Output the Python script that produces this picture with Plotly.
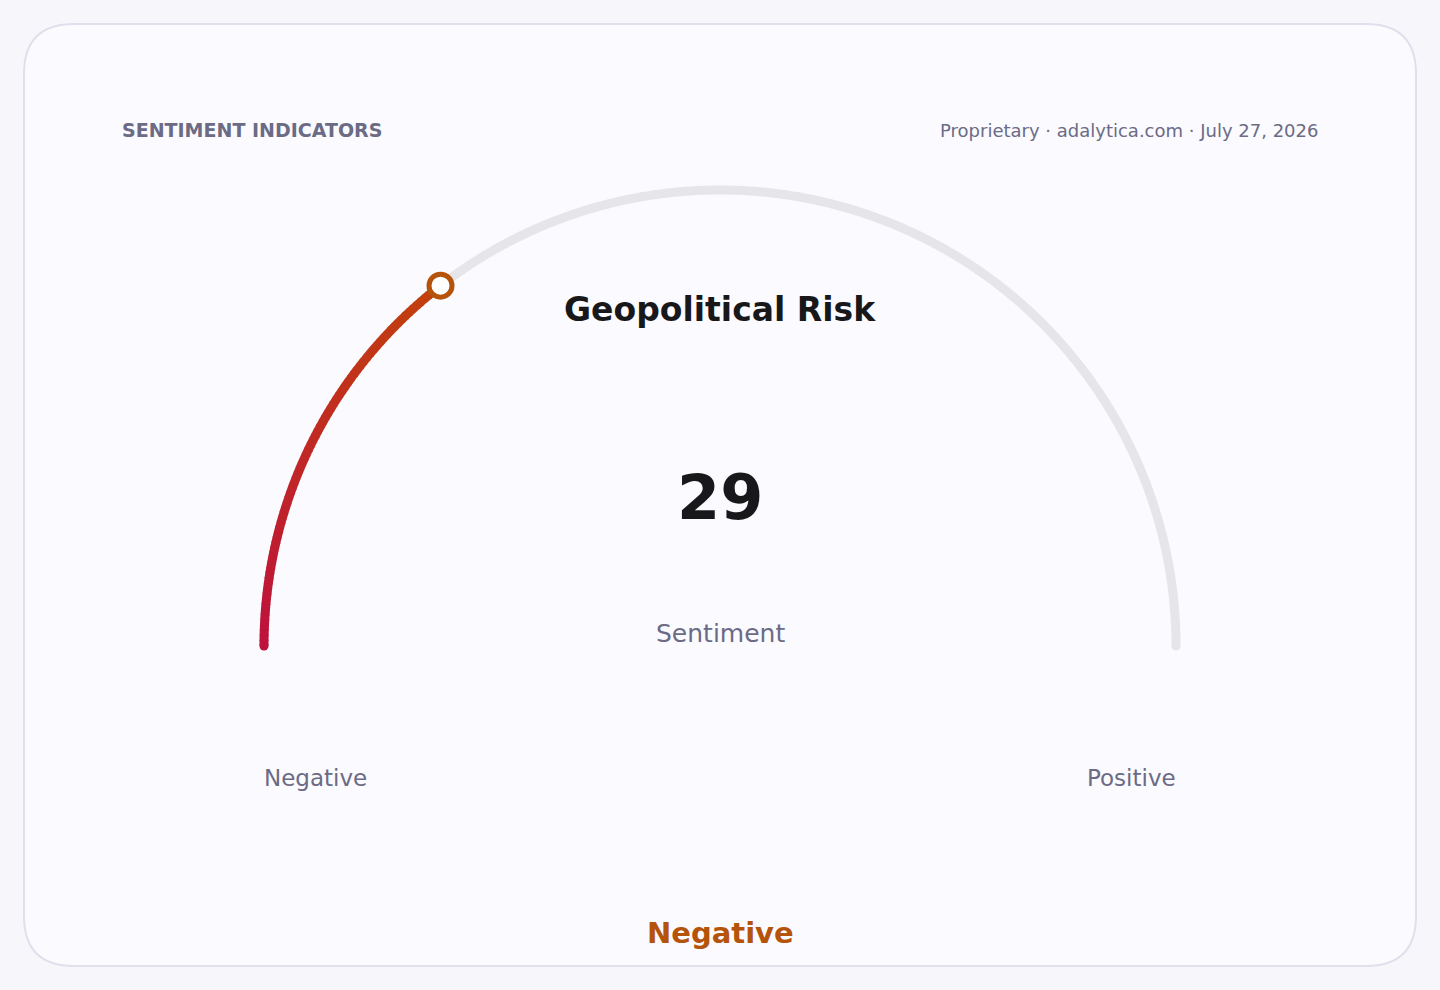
"""Sentiment gauge card recreated with Plotly."""

import math

import plotly.graph_objects as go

# ---- data ----
indicator = "Geopolitical Risk"
value = 29
value_min, value_max = 0, 100
value_caption = "Sentiment"
range_labels = ["Negative", "Positive"]
verdict = "Negative"
header_left = "SENTIMENT INDICATORS"
header_right = "Proprietary · adalytica.com · July 27, 2026"

# ---- geometry / styles ----
W, H = 1440, 990
CX, CY, R = 720, 646, 456
ARC_W = 9
FONT = "DejaVu Sans"
GRAY = "#6b6b85"
INK = "#18181b"
TRACK = "#e5e5ea"
PAGE_BG = "#f7f7fb"
C_START = (190, 18, 60)
C_END = (194, 65, 12)
ACCENT = "#b45309"


def arc_xy(v):
    a = math.pi * (1 - (v - value_min) / (value_max - value_min))
    return CX + R * math.cos(a), CY - R * math.sin(a)


def mix(t):
    r, g, b = (round(C_START[i] + (C_END[i] - C_START[i]) * t) for i in range(3))
    return f"rgb({r},{g},{b})"


traces = []

# background track
steps = 500
tx, ty = zip(*[arc_xy(value_min + (value_max - value_min) * i / steps) for i in range(steps + 1)])
traces.append(go.Scatter(x=tx, y=ty, mode="lines",
                         line=dict(color=TRACK, width=ARC_W, simplify=False),
                         hoverinfo="skip", showlegend=False))
traces.append(go.Scatter(x=[tx[0], tx[-1]], y=[ty[0], ty[-1]], mode="markers",
                         marker=dict(color=TRACK, size=ARC_W), hoverinfo="skip", showlegend=False))

# gradient value arc
n = 80
for i in range(n):
    v0 = value_min + (value - value_min) * i / n
    v1 = min(value_min + (value - value_min) * (i + 1.2) / n, value)
    pts = [arc_xy(v0 + (v1 - v0) * k / 4) for k in range(5)]
    traces.append(go.Scatter(x=[p[0] for p in pts], y=[p[1] for p in pts], mode="lines",
                             line=dict(color=mix(i / (n - 1)), width=ARC_W, simplify=False),
                             hoverinfo="skip", showlegend=False))
sx, sy = arc_xy(value_min)
traces.append(go.Scatter(x=[sx], y=[sy], mode="markers", marker=dict(color=mix(0), size=ARC_W),
                         hoverinfo="skip", showlegend=False))

# value marker
mx, my = arc_xy(value)
traces.append(go.Scatter(x=[mx], y=[my], mode="markers",
                         marker=dict(color="white", size=23, line=dict(color=ACCENT, width=5)),
                         hovertemplate=f"{indicator}: {value}<extra></extra>", showlegend=False))

fig = go.Figure(data=traces)

annotations = [
    dict(x=120, y=130, text=f"<b>{header_left}</b>", xanchor="left",
         font=dict(size=19, color=GRAY)),
    dict(x=1320, y=130, text=header_right, xanchor="right",
         font=dict(size=18, color=GRAY)),
    dict(x=CX, y=309, text=f"<b>{indicator}</b>", font=dict(size=33, color=INK)),
    dict(x=CX, y=497, text=f"<b>{value}</b>", font=dict(size=62, color=INK)),
    dict(x=CX, y=633, text=value_caption, font=dict(size=25, color=GRAY)),
    dict(x=CX - R - 2, y=778, text=range_labels[0], xanchor="left", font=dict(size=23, color=GRAY)),
    dict(x=CX + R + 2, y=778, text=range_labels[1], xanchor="right", font=dict(size=23, color=GRAY)),
    dict(x=CX, y=933, text=f"<b>{verdict}</b>", font=dict(size=29, color=ACCENT)),
]
for a in annotations:
    a.update(xref="x", yref="y", showarrow=False, yanchor="middle")
    a.setdefault("xanchor", "center")

# card outline (rounded rect)
x0, y0, x1, y1, rr = 24, 24, 1416, 966, 50
card = (f"M {x0 + rr},{y0} L {x1 - rr},{y0} Q {x1},{y0} {x1},{y0 + rr} "
        f"L {x1},{y1 - rr} Q {x1},{y1} {x1 - rr},{y1} L {x0 + rr},{y1} "
        f"Q {x0},{y1} {x0},{y1 - rr} L {x0},{y0 + rr} Q {x0},{y0} {x0 + rr},{y0} Z")

fig.update_layout(
    width=W, height=H,
    margin=dict(l=0, r=0, t=0, b=0),
    paper_bgcolor=PAGE_BG,
    plot_bgcolor="rgba(0,0,0,0)",
    font=dict(family=FONT),
    showlegend=False,
    hovermode="closest",
    xaxis=dict(range=[0, W], visible=False, fixedrange=True),
    yaxis=dict(range=[H, 0], visible=False, fixedrange=True),
    shapes=[dict(type="path", path=card, xref="x", yref="y", layer="below",
                 fillcolor="#fafaff", line=dict(color="#e0e0ec", width=2))],
    annotations=annotations,
)

# drop the default body margin so the card sits at the window origin
fig.write_html(
    "out.html",
    config={"displayModeBar": False},
    post_script=f"document.body.style.margin='0';document.body.style.background='{PAGE_BG}';",
)
